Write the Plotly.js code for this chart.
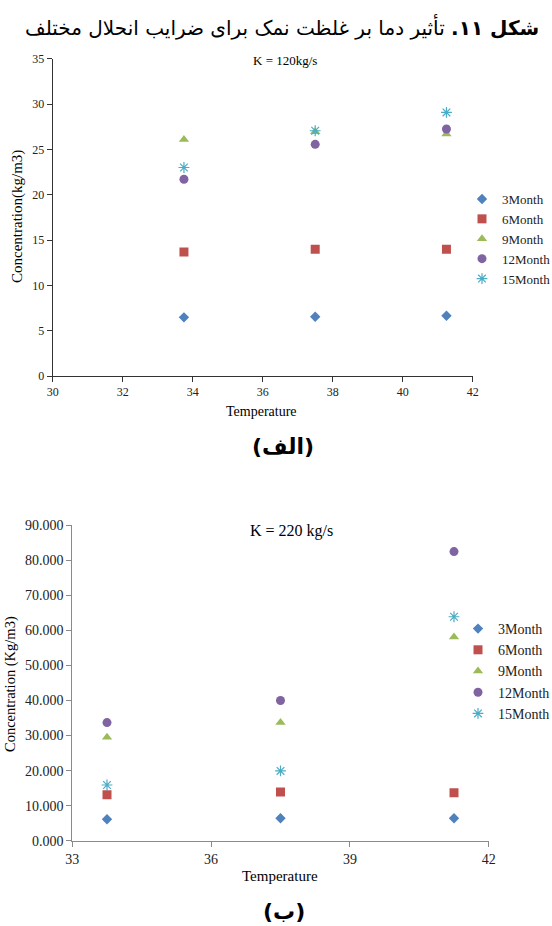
<!DOCTYPE html>
<html>
<head>
<meta charset="utf-8">
<script src="https://cdn.plot.ly/plotly-3.0.1.min.js"></script>
<style>
  html, body { margin: 0; padding: 0; background: #fff; overflow: hidden; }
  #chart { width: 552px; height: 926px; }
</style>
</head>
<body>
<div id="chart"></div>
<script>
// ---- data ----
const temperatures = [33.75, 37.5, 41.25];
const seriesNames = ["3Month", "6Month", "9Month", "12Month", "15Month"];

// K = 120 kg/s (top, الف)
const topMonth3  = [6.47, 6.54, 6.65];
const topMonth6  = [13.67, 13.97, 13.97];
const topMonth9  = [26.1, 26.95, 26.7];
const topMonth12 = [21.7, 25.55, 27.25];
const topMonth15 = [23.0, 27.05, 29.07];

// K = 220 kg/s (bottom, ب)
const botMonth3  = [6.1, 6.4, 6.4];
const botMonth6  = [13.1, 13.9, 13.7];
const botMonth9  = [29.5, 33.7, 58.1];
const botMonth12 = [33.7, 40.0, 82.5];
const botMonth15 = [15.9, 19.9, 63.9];

const topTicksX = [30, 32, 34, 36, 38, 40, 42];
const topTicksY = [0, 5, 10, 15, 20, 25, 30, 35];
const botTicksX = [33, 36, 39, 42];
const botTicksY = [0, 10, 20, 30, 40, 50, 60, 70, 80, 90];

const figTitle = "<b>شکل ۱۱.</b> تأثیر دما بر غلظت نمک برای ضرایب انحلال مختلف";

// ---- styles ----
const colors  = ["#4F81BD", "#C0504D", "#9BBB59", "#8064A2", "#4BACC6"];
const symbols = ["diamond", "square", "triangle-up", "circle", "asterisk-open"];
const sizes   = [8, 9, 9, 9, 9];
const serif = "Liberation Serif, Times New Roman, serif";
const arabic = "DejaVu Sans, Noto Sans, sans-serif";

const topData = [topMonth3, topMonth6, topMonth9, topMonth12, topMonth15];
const botData = [botMonth3, botMonth6, botMonth9, botMonth12, botMonth15];

function mk(vals, i, xa, ya, leg) {
  return {
    type: "scatter", mode: "markers",
    x: temperatures, y: vals, name: seriesNames[i],
    xaxis: xa, yaxis: ya, legend: leg,
    marker: {
      symbol: symbols[i], size: sizes[i], color: colors[i],
      line: { color: colors[i], width: i === 4 ? 1.2 : 0 }
    },
    hoverinfo: "x+y+name"
  };
}

const traces = [];
topData.forEach((v, i) => traces.push(mk(v, i, "x", "y", "legend")));
botData.forEach((v, i) => traces.push(mk(v, i, "x2", "y2", "legend2")));

const axBase = {
  showgrid: false, zeroline: false, showline: true, automargin: false,
  ticks: "outside", ticklen: 5, tickwidth: 1
};

function ann(text, x, y, size, family, extra) {
  return Object.assign({
    text: text, xref: "paper", yref: "paper", x: x / 552, y: 1 - y / 926,
    xanchor: "center", yanchor: "middle", showarrow: false,
    font: { family: family, size: size, color: "#000" }
  }, extra || {});
}

const layout = {
  width: 552, height: 926,
  margin: { l: 0, r: 0, t: 0, b: 0, autoexpand: false },
  paper_bgcolor: "#fff", plot_bgcolor: "#fff",
  showlegend: true,
  xaxis: Object.assign({}, axBase, {
    domain: [52.7/552, 472.7/552], range: [30, 42],
    tickvals: topTicksX, linecolor: "#333", tickcolor: "#333", anchor: "y",
    tickfont: { family: serif, size: 12, color: "#222" }
  }),
  yaxis: Object.assign({}, axBase, {
    domain: [(926-376)/926, (926-58.7)/926], range: [0, 35],
    tickvals: topTicksY, linecolor: "#333", tickcolor: "#333", anchor: "x",
    tickfont: { family: serif, size: 12, color: "#222" }
  }),
  xaxis2: Object.assign({}, axBase, {
    domain: [72.3/552, 488.7/552], range: [33, 42],
    tickvals: botTicksX, linecolor: "#8a8a8a", tickcolor: "#8a8a8a", anchor: "y2",
    tickfont: { family: serif, size: 14, color: "#222" }
  }),
  yaxis2: Object.assign({}, axBase, {
    domain: [(926-840.7)/926, (926-525.3)/926], range: [0, 90],
    tickvals: botTicksY, tickformat: ".3f", linecolor: "#8a8a8a", tickcolor: "#8a8a8a", anchor: "x2",
    tickfont: { family: serif, size: 14, color: "#222" }
  }),
  legend: {
    x: 462/552, y: 1 - 184/926, xanchor: "left", yanchor: "top",
    font: { family: serif, size: 13, color: "#222" },
    bgcolor: "rgba(0,0,0,0)", tracegroupgap: 0, itemwidth: 30
  },
  legend2: {
    x: 458/552, y: 1 - 613/926, xanchor: "left", yanchor: "top",
    font: { family: serif, size: 14, color: "#222" },
    bgcolor: "rgba(0,0,0,0)", tracegroupgap: 0, itemwidth: 30
  },
  annotations: [
    ann(figTitle, 541, 27, 20, arabic, { xanchor: "right" }),
    ann("K = 120kg/s", 285, 60, 13, serif),
    ann("Temperature", 261, 411, 14, serif),
    ann("Concentration(kg/m3)", 17, 217, 15, serif, { textangle: -90 }),
    ann("<b>(الف)</b>", 283, 446, 22, arabic),
    ann("K = 220 kg/s", 291, 531, 16, serif),
    ann("Temperature", 280, 876, 15, serif),
    ann("Concentration (Kg/m3)", 10, 684, 14.5, serif, { textangle: -90 }),
    ann("<b>(ب)</b>", 284, 911, 22, arabic)
  ]
};

Plotly.newPlot("chart", traces, layout, { displayModeBar: false, staticPlot: true });
</script>
</body>
</html>
